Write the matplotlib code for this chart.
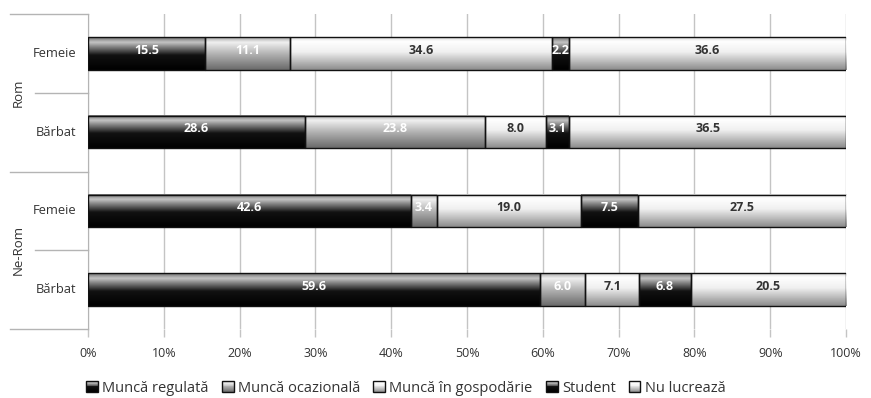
import numpy as np
import matplotlib
matplotlib.use("Agg")
import matplotlib.pyplot as plt
from matplotlib.colors import LinearSegmentedColormap
from matplotlib.patches import Rectangle
from matplotlib.legend_handler import HandlerBase

plt.rcParams['font.family'] = ['Open Sans', 'DejaVu Sans']

# --- datos ---
grupuri = ['Rom', 'Ne-Rom']
sexe = ['Femeie', 'Bărbat']
categorii = ['Muncă regulată', 'Muncă ocazională', 'Muncă în gospodărie', 'Student', 'Nu lucrează']

# orden de arriba a abajo: Rom-Femeie, Rom-Bărbat, Ne-Rom-Femeie, Ne-Rom-Bărbat
munca_regulata = [15.5, 28.6, 42.6, 59.6]
munca_ocazionala = [11.1, 23.8, 3.4, 6.0]
munca_gospodarie = [34.6, 8.0, 19.0, 7.1]
student = [2.2, 3.1, 7.5, 6.8]
nu_lucreaza = [36.6, 36.5, 27.5, 20.5]

serii = [munca_regulata, munca_ocazionala, munca_gospodarie, student, nu_lucreaza]
xticks = [0, 10, 20, 30, 40, 50, 60, 70, 80, 90, 100]

# degradados verticales (0 = arriba, 1 = abajo)
oscuro = [(0, '#707070'), (0.15, '#c4c4c4'), (0.55, '#111111'), (1, '#000000')]
gris = [(0, '#a8a8a8'), (0.15, '#f0f0f0'), (0.5, '#b4b4b4'), (1, '#6a6a6a')]
blanco = [(0, '#d8d8d8'), (0.12, '#ffffff'), (0.45, '#f0f0f0'), (1, '#8c8c8c')]
grad = [oscuro, gris, blanco, oscuro, blanco]
cmaps = [LinearSegmentedColormap.from_list('g%d' % i, g) for i, g in enumerate(grad)]
color_texto = ['white', 'white', '#333333', 'white', '#333333']

fig = plt.figure(figsize=(8.71, 3.98), dpi=100)
ax = fig.add_axes([88 / 871, 1 - 329 / 398, 758 / 871, 315 / 398])

ypos = np.arange(len(munca_regulata))[::-1]
col = np.linspace(0, 1, 64).reshape(-1, 1)

izq = np.zeros(len(ypos))
for vals, cm, tc in zip(serii, cmaps, color_texto):
    bars = ax.barh(ypos, vals, left=izq, height=0.41, color='none',
                   edgecolor='#111111', linewidth=1.0, zorder=4)
    for b, v in zip(bars, vals):
        x0, y0, w, h = b.get_x(), b.get_y(), b.get_width(), b.get_height()
        ax.imshow(col, cmap=cm, vmin=0, vmax=1, extent=(x0, x0 + w, y0, y0 + h),
                  aspect='auto', origin='upper', zorder=3, interpolation='bilinear')
        ax.text(x0 + w / 2, y0 + h * 0.6, f'{v:.1f}', ha='center', va='center',
                color=tc, fontsize=9, fontweight='bold', zorder=5)
    izq += np.array(vals)

ax.set_xlim(0, 100)
ax.set_ylim(-0.5, 3.5)
ax.set_xticks(xticks)
ax.set_xticklabels([f'{t}%' for t in xticks], fontsize=9, color='#333333')
ax.set_yticks([])
ax.grid(axis='x', color='#c4c4c4', linewidth=1.0, zorder=0)
ax.set_axisbelow(True)
ax.tick_params(axis='x', length=6, color='#c4c4c4', width=1.0, pad=7)
for s in ['top', 'right', 'bottom']:
    ax.spines[s].set_visible(False)
ax.spines['left'].set_color('#b4b4b4')

# etiquetas jerárquicas del eje Y
tr = ax.get_yaxis_transform()
for y, lab in zip(ypos, sexe * 2):
    ax.text(-0.015, y, lab, transform=tr, ha='right', va='center', fontsize=9.3, color='#333333')
for yc, g in zip([2.5, 0.5], grupuri):
    ax.text(-0.092, yc, g, transform=tr, ha='center', va='center', rotation=90,
            fontsize=9.5, color='#333333')
for y in [3.5, 1.5, -0.5]:
    ax.plot([-0.103, 0], [y, y], transform=tr, color='#b4b4b4', lw=1.0, clip_on=False)
for y in [2.5, 0.5]:
    ax.plot([-0.070, 0], [y, y], transform=tr, color='#b4b4b4', lw=1.0, clip_on=False)


class GradHandler(HandlerBase):
    def __init__(self, cm):
        super().__init__()
        self.cm = cm

    def create_artists(self, legend, orig, xd, yd, width, height, fontsize, trans):
        arts = []
        n = 12
        for i in range(n):
            c = self.cm((i + 0.5) / n)
            arts.append(Rectangle((-xd, -yd + height * (n - 1 - i) / n), width, height / n,
                                  facecolor=c, edgecolor='none', transform=trans))
        arts.append(Rectangle((-xd, -yd), width, height, facecolor='none',
                              edgecolor='#111111', lw=1.0, transform=trans))
        return arts


handles = [Rectangle((0, 0), 1, 1) for _ in categorii]
hmap = {h: GradHandler(cm) for h, cm in zip(handles, cmaps)}
fig.legend(handles, categorii, handler_map=hmap, loc='center', ncol=5,
           bbox_to_anchor=(0.466, 1 - 388 / 398), frameon=False, fontsize=10.5,
           handlelength=0.8, handleheight=0.8, handletextpad=0.3, columnspacing=0.9,
           labelcolor='#333333')

fig.savefig('out.png', dpi=100)
